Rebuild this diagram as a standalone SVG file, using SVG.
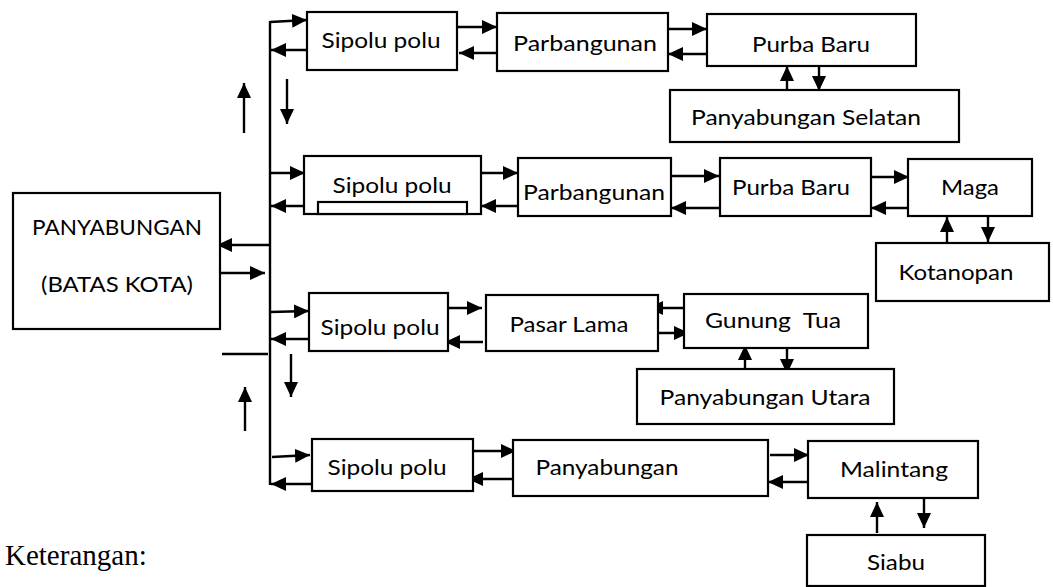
<svg xmlns="http://www.w3.org/2000/svg" width="1053" height="587" viewBox="0 0 1053 587">
<defs>
<marker id="ah" markerUnits="userSpaceOnUse" markerWidth="15" markerHeight="14" refX="15" refY="7" orient="auto">
<path d="M0,0 L15,7 L0,14 Z" fill="#000"/>
</marker>
<style>
.box{fill:#fff;stroke:#000;stroke-width:2.2}
.t{font-family:Lato,"Open Sans",sans-serif;font-size:22px;fill:#000;text-anchor:middle}
.c{fill:none;stroke:#000;stroke-width:2.4}
.a{fill:none;stroke:#000;stroke-width:2.4;marker-end:url(#ah)}
</style>
</defs>
<rect width="1053" height="587" fill="#fff"/>

<g id="connectors">
<path class="c" d="M270,21 V485"/>
<path class="a" d="M270,22 L307,20"/>
<path class="a" d="M307,50 L271,50"/>
<path class="a" d="M270,173 L305,173"/>
<path class="a" d="M304,206 L271,206"/>
<path class="a" d="M270,312 L309,311"/>
<path class="a" d="M309,339 L271,339"/>
<path class="a" d="M272,457 L310,455"/>
<path class="a" d="M312,484 L271,484"/>
<path class="a" d="M270,245 L217,245"/>
<path class="a" d="M220,273 L265,273"/>
<path class="a" d="M244,133 L244,83"/>
<path class="a" d="M287,79 L287,124"/>
<path class="c" d="M222,354 H268"/>
<path class="a" d="M291,354 L291,397"/>
<path class="a" d="M245,431 L245,387"/>
<path class="a" d="M457,27 L497,27"/>
<path class="a" d="M497,53 L459,53"/>
<path class="a" d="M668,29 L707,29"/>
<path class="a" d="M710,54 L668,54"/>
<path class="a" d="M787,91 L787,66"/>
<path class="a" d="M819,66 L819,91"/>
<path class="a" d="M481,173 L518,173"/>
<path class="a" d="M518,206 L481,206"/>
<path class="a" d="M671,176 L719,176"/>
<path class="a" d="M720,208 L671,208"/>
<path class="a" d="M871,177 L909,177"/>
<path class="a" d="M908,208 L871,208"/>
<path class="a" d="M947,245 L947,217"/>
<path class="a" d="M988,216 L988,242"/>
<path class="a" d="M443,308 L482,308"/>
<path class="a" d="M483,342 L445,342"/>
<path class="a" d="M684,308 L648,308"/>
<path class="a" d="M650,333 L689,333"/>
<path class="a" d="M745,373 L745,345"/>
<path class="a" d="M787,348 L787,374"/>
<path class="a" d="M469,451 L516,451"/>
<path class="a" d="M513,479 L468,479"/>
<path class="a" d="M770,455 L809,455"/>
<path class="a" d="M808,482 L768,482"/>
<path class="a" d="M877,533 L877,502"/>
<path class="a" d="M924,498 L924,528"/>
</g>

<g id="panyabungan-batas-kota">
<rect class="box" x="13" y="193" width="207" height="136"/>
<text class="t" x="117" y="235" textLength="170" lengthAdjust="spacingAndGlyphs">PANYABUNGAN</text>
<text class="t" x="117" y="292" textLength="152" lengthAdjust="spacingAndGlyphs">(BATAS KOTA)</text>
</g>

<g id="sipolu-polu-1">
<rect class="box" x="307" y="12" width="150" height="58"/>
<text class="t" x="381" y="48" textLength="119" lengthAdjust="spacingAndGlyphs">Sipolu polu</text>
</g>
<g id="parbangunan-1">
<rect class="box" x="497" y="13" width="171" height="58"/>
<text class="t" x="585" y="51" textLength="144" lengthAdjust="spacingAndGlyphs">Parbangunan</text>
</g>
<g id="purba-baru-1">
<rect class="box" x="707" y="14" width="209" height="52"/>
<text class="t" x="811" y="52" textLength="118" lengthAdjust="spacingAndGlyphs">Purba Baru</text>
</g>
<g id="panyabungan-selatan">
<rect class="box" x="670" y="90" width="289" height="52"/>
<text class="t" x="806" y="125" textLength="230" lengthAdjust="spacingAndGlyphs">Panyabungan Selatan</text>
</g>

<g id="sipolu-polu-2">
<rect class="box" x="304" y="156" width="177" height="58"/>
<rect class="box" x="318" y="202" width="149" height="12"/>
<text class="t" x="392" y="193" textLength="119" lengthAdjust="spacingAndGlyphs">Sipolu polu</text>
</g>
<g id="parbangunan-2">
<rect class="box" x="518" y="158" width="153" height="58"/>
<text class="t" x="594" y="200" textLength="142" lengthAdjust="spacingAndGlyphs">Parbangunan</text>
</g>
<g id="purba-baru-2">
<rect class="box" x="720" y="158" width="151" height="58"/>
<text class="t" x="791" y="195" textLength="118" lengthAdjust="spacingAndGlyphs">Purba Baru</text>
</g>
<g id="maga">
<rect class="box" x="908" y="159" width="124" height="57"/>
<text class="t" x="970" y="195" textLength="58" lengthAdjust="spacingAndGlyphs">Maga</text>
</g>
<g id="kotanopan">
<rect class="box" x="876" y="243" width="173" height="58"/>
<text class="t" x="956" y="280" textLength="115" lengthAdjust="spacingAndGlyphs">Kotanopan</text>
</g>

<g id="sipolu-polu-3">
<rect class="box" x="309" y="293" width="139" height="58"/>
<text class="t" x="380" y="335" textLength="119" lengthAdjust="spacingAndGlyphs">Sipolu polu</text>
</g>
<g id="pasar-lama">
<rect class="box" x="486" y="295" width="172" height="56"/>
<text class="t" x="569" y="332" textLength="119" lengthAdjust="spacingAndGlyphs">Pasar Lama</text>
</g>
<g id="gunung-tua">
<rect class="box" x="684" y="294" width="184" height="54"/>
<text class="t" x="773" y="328" xml:space="preserve" textLength="136" lengthAdjust="spacingAndGlyphs">Gunung  Tua</text>
</g>
<g id="panyabungan-utara">
<rect class="box" x="637" y="369" width="257" height="55"/>
<text class="t" x="765" y="405" textLength="211" lengthAdjust="spacingAndGlyphs">Panyabungan Utara</text>
</g>

<g id="sipolu-polu-4">
<rect class="box" x="312" y="439" width="161" height="52"/>
<text class="t" x="387" y="475" textLength="119" lengthAdjust="spacingAndGlyphs">Sipolu polu</text>
</g>
<g id="panyabungan-4">
<rect class="box" x="513" y="440" width="255" height="56"/>
<text class="t" x="607" y="475" textLength="143" lengthAdjust="spacingAndGlyphs">Panyabungan</text>
</g>
<g id="malintang">
<rect class="box" x="808" y="441" width="170" height="57"/>
<text class="t" x="894" y="477" textLength="108" lengthAdjust="spacingAndGlyphs">Malintang</text>
</g>
<g id="siabu">
<rect class="box" x="807" y="535" width="178" height="51"/>
<text class="t" x="896" y="570" textLength="58" lengthAdjust="spacingAndGlyphs">Siabu</text>
</g>

<text x="5" y="565" font-family="'Liberation Serif',serif" font-size="29">Keterangan:</text>
</svg>
